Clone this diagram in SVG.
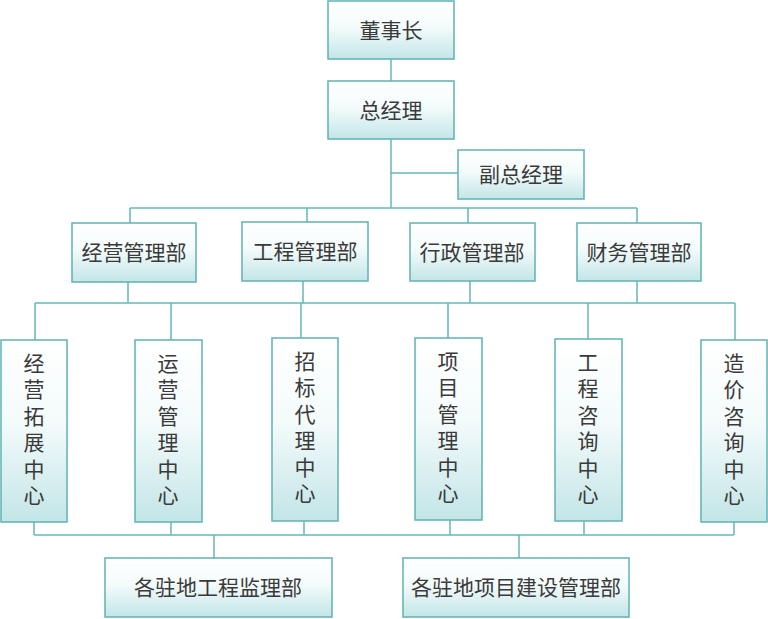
<svg xmlns="http://www.w3.org/2000/svg" width="768" height="619" viewBox="0 0 768 619">
<defs>
<linearGradient id="g" x1="0" y1="0" x2="0" y2="1">
<stop offset="0" stop-color="#ffffff"/>
<stop offset="0.45" stop-color="#f4fbfb"/>
<stop offset="1" stop-color="#c3e5e7"/>
</linearGradient>
<style>
.b{fill:url(#g);stroke:#5fb2b3;stroke-width:1.5}
.t{font-family:"Noto Sans CJK SC","Noto Sans CJK JP",sans-serif;font-size:21px;fill:#3a3a3a;text-anchor:middle}
.v{writing-mode:vertical-rl;letter-spacing:5.5px}
.c{fill:none;stroke:#66b8b8;stroke-width:1.5}
</style>
</defs>
<rect width="768" height="619" fill="#ffffff"/>
<g id="connectors" class="c">
<path d="M391 59V208"/>
<path d="M391 173H458"/>
<path d="M130 208H637"/>
<path d="M130 208V223M307 208V222M468 208V223M637 208V223"/>
<path d="M128 282V303M303 281V303M470 281V303M637 281V303"/>
<path d="M35 303H735"/>
<path d="M35 303V340M171 303V340M301 303V338M448 303V338M588 303V339M735 303V340"/>
<path d="M34 522V535M171 522V535M304 521V535M450 520V535M584 521V535M734 522V535"/>
<path d="M34 535H734"/>
<path d="M214 535V558M519 535V558"/>
</g>
<g id="n1"><rect class="b" x="328" y="1" width="126" height="58"/><text class="t" x="391" y="38">董事长</text></g>
<g id="n2"><rect class="b" x="328" y="81" width="126" height="58"/><text class="t" x="391" y="118">总经理</text></g>
<g id="n3"><rect class="b" x="458" y="150" width="126" height="49"/><text class="t" x="521" y="182">副总经理</text></g>
<g id="n4"><rect class="b" x="72" y="223" width="124" height="59"/><text class="t" x="134" y="260">经营管理部</text></g>
<g id="n5"><rect class="b" x="242" y="222" width="126" height="59"/><text class="t" x="305" y="259">工程管理部</text></g>
<g id="n6"><rect class="b" x="410" y="223" width="125" height="58"/><text class="t" x="472" y="260">行政管理部</text></g>
<g id="n7"><rect class="b" x="577" y="223" width="124" height="58"/><text class="t" x="639" y="260">财务管理部</text></g>
<g id="n8"><rect class="b" x="1" y="340" width="66" height="182"/><text class="t v" x="34" y="432">经营拓展中心</text></g>
<g id="n9"><rect class="b" x="135" y="340" width="67" height="182"/><text class="t v" x="168" y="432">运营管理中心</text></g>
<g id="n10"><rect class="b" x="272" y="338" width="66" height="183"/><text class="t v" x="305" y="430">招标代理中心</text></g>
<g id="n11"><rect class="b" x="415" y="338" width="67" height="182"/><text class="t v" x="448" y="430">项目管理中心</text></g>
<g id="n12"><rect class="b" x="555" y="339" width="67" height="182"/><text class="t v" x="588" y="431">工程咨询中心</text></g>
<g id="n13"><rect class="b" x="701" y="340" width="66" height="182"/><text class="t v" x="734" y="432">造价咨询中心</text></g>
<g id="n14"><rect class="b" x="105" y="558" width="227" height="59"/><text class="t" x="218" y="595">各驻地工程监理部</text></g>
<g id="n15"><rect class="b" x="403" y="558" width="226" height="59"/><text class="t" x="516" y="595">各驻地项目建设管理部</text></g>
</svg>
